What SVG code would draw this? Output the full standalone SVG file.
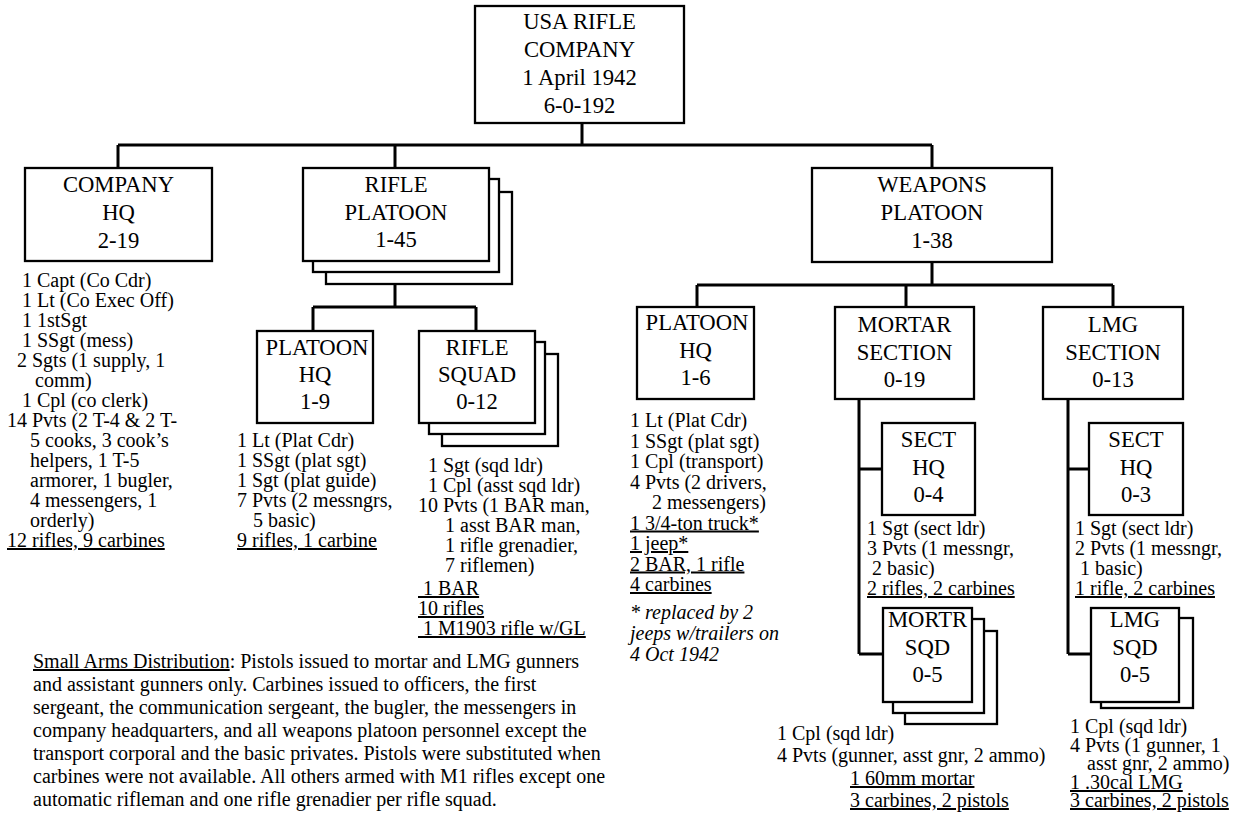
<svg xmlns="http://www.w3.org/2000/svg" width="1247" height="817" viewBox="0 0 1247 817" font-family="'Liberation Serif', serif">
<style>
.box{fill:#fff;stroke:#000;stroke-width:2.3}
.conn{stroke:#000;stroke-width:3;fill:none}
.bt{font-family:'Liberation Serif',serif;font-size:22.67px;text-anchor:middle;fill:#000}
.tx{font-family:'Liberation Serif',serif;font-size:20px;fill:#000}
.u{text-decoration:underline}
.it{font-style:italic}
</style>
<rect width="1247" height="817" fill="#fff"/>
<g id="connectors">
<path class="conn" d="M582,123V145M118,145H932M118,145V168M395,145V168M932,145V168"/>
<path class="conn" d="M395,284V307M313,307H476M313,307V331M476,307V331"/>
<path class="conn" d="M932,262V285M697,285H1113M697,285V307M906,285V307M1113,285V307"/>
<path class="conn" d="M859,399V654M859,469H882M859,654H883"/>
<path class="conn" d="M1068,399V654M1068,469H1089M1068,654H1091"/>
</g>
<g id="company">
<rect class="box" x="475" y="6" width="209" height="117"/>
<text class="bt"><tspan x="579.5" y="29">USA RIFLE</tspan><tspan x="579.5" y="57">COMPANY</tspan><tspan x="579.5" y="85">1 April 1942</tspan><tspan x="579.5" y="113">6-0-192</tspan></text>
</g>
<g id="company-hq">
<rect class="box" x="25" y="168" width="187" height="93"/>
<text class="bt"><tspan x="118.5" y="192">COMPANY</tspan><tspan x="118.5" y="220">HQ</tspan><tspan x="118.5" y="248">2-19</tspan></text>
<text class="tx"><tspan x="22" y="287">1 Capt (Co Cdr)</tspan><tspan x="22" y="307">1 Lt (Co Exec Off)</tspan><tspan x="22" y="327">1 1stSgt</tspan><tspan x="22" y="347">1 SSgt (mess)</tspan><tspan x="17" y="367">2 Sgts (1 supply, 1</tspan><tspan x="35" y="387">comm)</tspan><tspan x="22" y="407">1 Cpl (co clerk)</tspan><tspan x="7" y="427">14 Pvts (2 T-4 &amp; 2 T-</tspan><tspan x="30" y="447">5 cooks, 3 cook’s</tspan><tspan x="30" y="467">helpers, 1 T-5</tspan><tspan x="30" y="487">armorer, 1 bugler,</tspan><tspan x="30" y="507">4 messengers, 1</tspan><tspan x="30" y="527">orderly)</tspan></text>
<text class="tx u" x="7" y="547">12 rifles, 9 carbines</text>
</g>
<g id="rifle-platoon">
<rect class="box" x="326" y="192" width="186" height="92"/>
<rect class="box" x="313" y="179" width="186" height="93"/>
<rect class="box" x="303" y="168" width="186" height="93"/>
<text class="bt"><tspan x="396" y="192">RIFLE</tspan><tspan x="396" y="220">PLATOON</tspan><tspan x="396" y="247">1-45</tspan></text>
</g>
<g id="rifle-platoon-hq">
<rect class="box" x="257" y="331" width="116" height="92"/>
<text class="bt"><tspan x="317" y="355">PLATOON</tspan><tspan x="315" y="382">HQ</tspan><tspan x="315" y="409">1-9</tspan></text>
<text class="tx"><tspan x="237" y="447">1 Lt (Plat Cdr)</tspan><tspan x="237" y="467">1 SSgt (plat sgt)</tspan><tspan x="237" y="487">1 Sgt (plat guide)</tspan><tspan x="237" y="507">7 Pvts (2 messngrs,</tspan><tspan x="253" y="527">5 basic)</tspan></text>
<text class="tx u" x="237" y="547">9 rifles, 1 carbine</text>
</g>
<g id="rifle-squad">
<rect class="box" x="442" y="354" width="116" height="92"/>
<rect class="box" x="429" y="342" width="116" height="92"/>
<rect class="box" x="419" y="331" width="116" height="92"/>
<text class="bt"><tspan x="477" y="355">RIFLE</tspan><tspan x="477" y="382">SQUAD</tspan><tspan x="477" y="409">0-12</tspan></text>
<text class="tx"><tspan x="428" y="472">1 Sgt (sqd ldr)</tspan><tspan x="428" y="492">1 Cpl (asst sqd ldr)</tspan><tspan x="418" y="512">10 Pvts (1 BAR man,</tspan><tspan x="445" y="532">1 asst BAR man,</tspan><tspan x="445" y="552">1 rifle grenadier,</tspan><tspan x="445" y="572">7 riflemen)</tspan></text>
<text class="tx u" x="418" y="595">&#160;1 BAR</text>
<text class="tx u" x="418" y="615">10 rifles</text>
<text class="tx u" x="418" y="635">&#160;1 M1903 rifle w/GL</text>
</g>
<g id="weapons-platoon">
<rect class="box" x="812" y="168" width="240" height="94"/>
<text class="bt"><tspan x="932" y="192">WEAPONS</tspan><tspan x="932" y="220">PLATOON</tspan><tspan x="932" y="248">1-38</tspan></text>
</g>
<g id="weapons-platoon-hq">
<rect class="box" x="637" y="307" width="117" height="92"/>
<text class="bt"><tspan x="697" y="330">PLATOON</tspan><tspan x="695.5" y="358">HQ</tspan><tspan x="695.5" y="385">1-6</tspan></text>
<text class="tx"><tspan x="630" y="427">1 Lt (Plat Cdr)</tspan><tspan x="630" y="447.5">1 SSgt (plat sgt)</tspan><tspan x="630" y="468">1 Cpl (transport)</tspan><tspan x="630" y="488.5">4 Pvts (2 drivers,</tspan><tspan x="652" y="509">2 messengers)</tspan></text>
<text class="tx u"><tspan x="630" y="529.5">1 3/4-ton truck*</tspan><tspan x="630" y="550">1 jeep*</tspan><tspan x="630" y="570.5">2 BAR, 1 rifle</tspan><tspan x="630" y="591">4 carbines</tspan></text>
<text class="tx it"><tspan x="630" y="619">* replaced by 2</tspan><tspan x="630" y="640">jeeps w/trailers on</tspan><tspan x="630" y="661">4 Oct 1942</tspan></text>
</g>
<g id="mortar-section">
<rect class="box" x="835" y="307" width="139" height="92"/>
<text class="bt"><tspan x="904.5" y="332">MORTAR</tspan><tspan x="904.5" y="360">SECTION</tspan><tspan x="904.5" y="387">0-19</tspan></text>
</g>
<g id="mortar-sect-hq">
<rect class="box" x="882" y="423" width="93" height="92"/>
<text class="bt"><tspan x="928.5" y="447">SECT</tspan><tspan x="928.5" y="475">HQ</tspan><tspan x="928.5" y="502">0-4</tspan></text>
<text class="tx"><tspan x="867" y="535">1 Sgt (sect ldr)</tspan><tspan x="867" y="555">3 Pvts (1 messngr,</tspan><tspan x="872" y="575">2 basic)</tspan></text>
<text class="tx u" x="867" y="595">2 rifles, 2 carbines</text>
</g>
<g id="mortar-squad">
<rect class="box" x="905" y="631" width="92" height="93"/>
<rect class="box" x="893" y="619" width="91" height="94"/>
<rect class="box" x="883" y="608" width="89" height="94"/>
<text class="bt"><tspan x="927.5" y="627">MORTR</tspan><tspan x="927.5" y="655">SQD</tspan><tspan x="927.5" y="682">0-5</tspan></text>
<text class="tx"><tspan x="777" y="740">1 Cpl (sqd ldr)</tspan><tspan x="777" y="762">4 Pvts (gunner, asst gnr, 2 ammo)</tspan></text>
<text class="tx u"><tspan x="850" y="785">1 60mm mortar</tspan><tspan x="850" y="807">3 carbines, 2 pistols</tspan></text>
</g>
<g id="lmg-section">
<rect class="box" x="1043" y="307" width="140" height="92"/>
<text class="bt"><tspan x="1113" y="332">LMG</tspan><tspan x="1113" y="360">SECTION</tspan><tspan x="1113" y="387">0-13</tspan></text>
</g>
<g id="lmg-sect-hq">
<rect class="box" x="1089" y="423" width="94" height="92"/>
<text class="bt"><tspan x="1136" y="447">SECT</tspan><tspan x="1136" y="475">HQ</tspan><tspan x="1136" y="502">0-3</tspan></text>
<text class="tx"><tspan x="1075" y="535">1 Sgt (sect ldr)</tspan><tspan x="1075" y="555">2 Pvts (1 messngr,</tspan><tspan x="1080" y="575">1 basic)</tspan></text>
<text class="tx u" x="1075" y="595">1 rifle, 2 carbines</text>
</g>
<g id="lmg-squad">
<rect class="box" x="1101" y="618" width="92" height="90"/>
<rect class="box" x="1091" y="608" width="88" height="94"/>
<text class="bt"><tspan x="1135" y="627">LMG</tspan><tspan x="1135" y="655">SQD</tspan><tspan x="1135" y="682">0-5</tspan></text>
<text class="tx"><tspan x="1070" y="733">1 Cpl (sqd ldr)</tspan><tspan x="1070" y="752">4 Pvts (1 gunner, 1</tspan><tspan x="1087" y="770">asst gnr, 2 ammo)</tspan></text>
<text class="tx u"><tspan x="1070" y="789">1 .30cal LMG</tspan><tspan x="1070" y="807">3 carbines, 2 pistols</tspan></text>
</g>
<g id="note">
<text class="tx"><tspan x="33" y="668"><tspan class="u">Small Arms Distribution</tspan>: Pistols issued to mortar and LMG gunners</tspan><tspan x="33" y="691">and assistant gunners only. Carbines issued to officers, the first</tspan><tspan x="33" y="714">sergeant, the communication sergeant, the bugler, the messengers in</tspan><tspan x="33" y="737">company headquarters, and all weapons platoon personnel except the</tspan><tspan x="33" y="760">transport corporal and the basic privates. Pistols were substituted when</tspan><tspan x="33" y="783">carbines were not available. All others armed with M1 rifles except one</tspan><tspan x="33" y="806">automatic rifleman and one rifle grenadier per rifle squad.</tspan></text>
</g>
</svg>
